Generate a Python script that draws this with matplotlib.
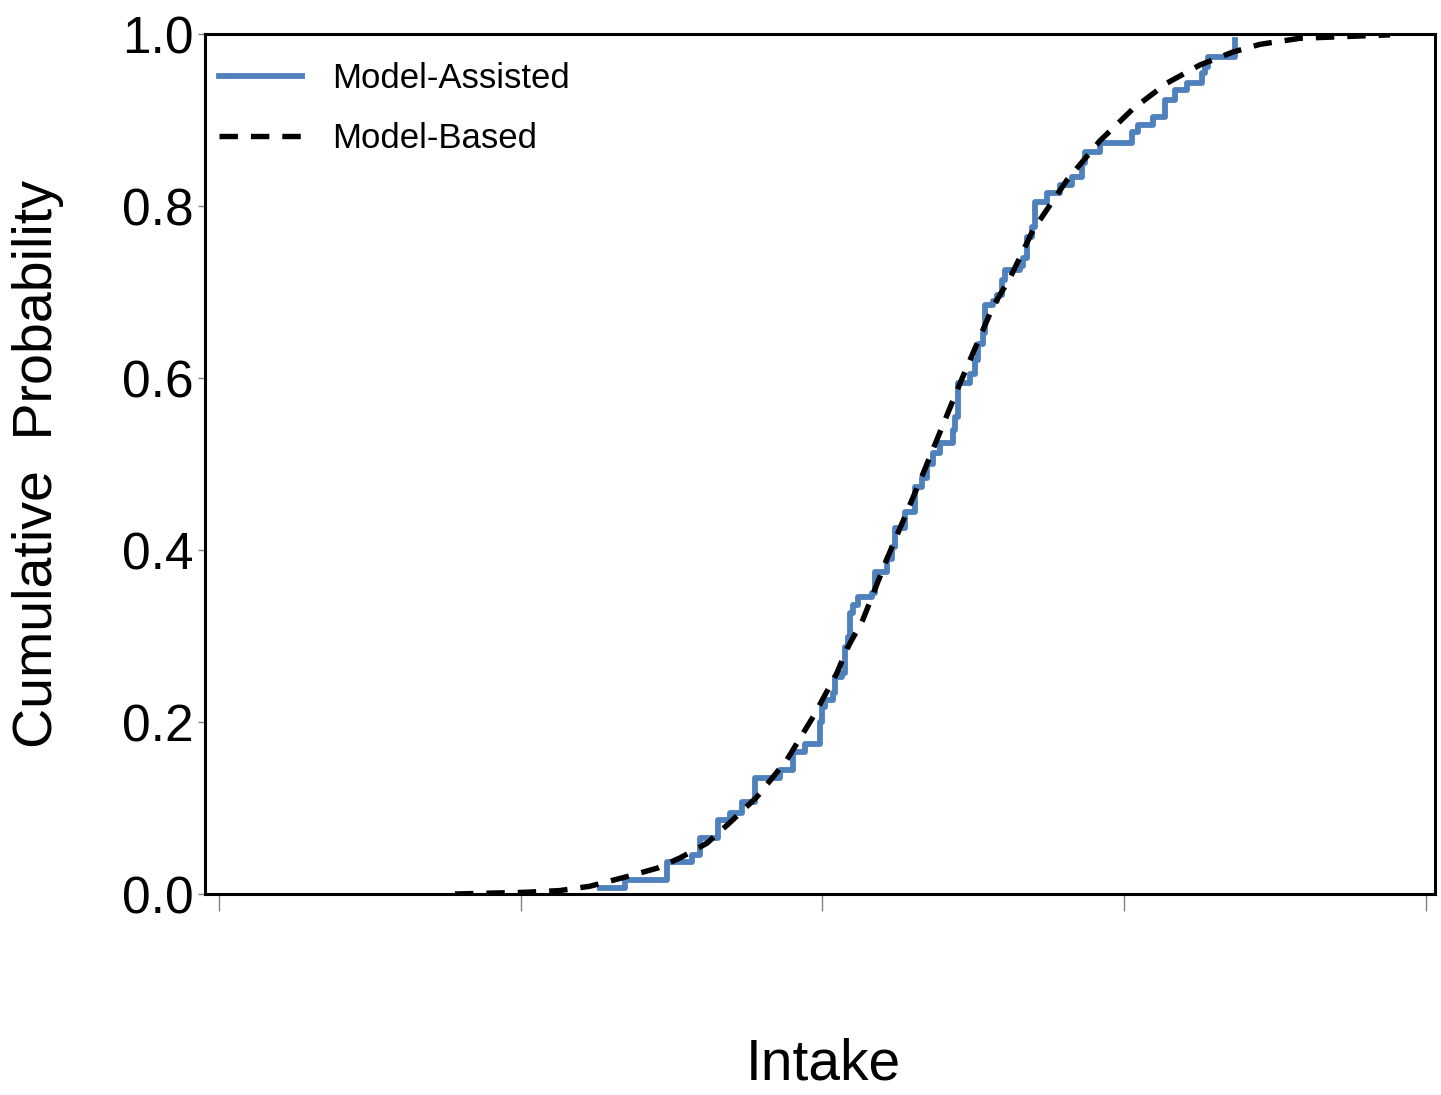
import matplotlib
matplotlib.use("Agg")
import matplotlib.pyplot as plt

plt.rcParams['font.family'] = ['Liberation Sans', 'DejaVu Sans']

# Model-Assisted empirical CDF (step positions and cumulative values)
assisted_x = [126.3, 134.5, 148.5, 156.8, 159.4, 165.4, 169.3, 173.3, 177.6, 185.9,
              190.2, 194.2, 199.2, 199.8, 200.8, 203.5, 204.1, 206.5, 207.5, 208.4,
              209.1, 210.1, 211.8, 216.4, 217.4, 221.4, 223.0, 224.0, 227.3, 230.7,
              233.0, 234.6, 236.6, 238.9, 243.2, 243.9, 244.9, 248.9, 250.5, 251.5,
              253.2, 253.9, 256.5, 257.8, 259.5, 260.5, 265.5, 266.4, 267.8, 269.4,
              270.4, 274.4, 278.7, 282.7, 286.0, 287.0, 292.0, 302.6, 304.6, 309.5,
              313.5, 316.8, 320.8, 325.8, 326.8, 327.8, 336.7]
assisted_y = [0.007, 0.016, 0.037, 0.045, 0.065, 0.086, 0.094, 0.107, 0.135, 0.144,
              0.165, 0.175, 0.200, 0.218, 0.226, 0.234, 0.252, 0.257, 0.287, 0.299,
              0.327, 0.336, 0.345, 0.350, 0.374, 0.390, 0.403, 0.426, 0.444, 0.473,
              0.484, 0.500, 0.513, 0.524, 0.540, 0.555, 0.594, 0.605, 0.621, 0.640,
              0.652, 0.685, 0.690, 0.697, 0.714, 0.726, 0.730, 0.740, 0.764, 0.776,
              0.805, 0.815, 0.824, 0.834, 0.850, 0.863, 0.873, 0.886, 0.894, 0.904,
              0.923, 0.935, 0.943, 0.955, 0.962, 0.973, 0.993]

# Model-Based smooth CDF
based_x = [78.2, 101.4, 113.0, 122.9, 133.9, 145.2, 152.8, 161.7, 169.3, 178.3,
           188.2, 196.9, 204.8, 208.1, 213.4, 221.4, 232.3, 245.6, 256.5, 262.1,
           269.8, 281.0, 292.0, 302.9, 314.2, 325.1, 336.0, 345.0, 358.2, 388.1]
based_y = [0.000, 0.002, 0.004, 0.009, 0.019, 0.030, 0.042, 0.059, 0.083, 0.113,
           0.156, 0.206, 0.257, 0.285, 0.319, 0.390, 0.480, 0.594, 0.683, 0.716,
           0.772, 0.830, 0.876, 0.913, 0.943, 0.964, 0.979, 0.988, 0.995, 0.999]

x_ticks = [0, 100, 200, 300, 400]
y_ticks = [0.0, 0.2, 0.4, 0.6, 0.8, 1.0]

fig = plt.figure(figsize=(14.41, 10.95), dpi=100)
ax = fig.add_axes([205/1441, 1-894/1095, (1435-205)/1441, (894-34)/1095])

ax.plot(assisted_x, assisted_y, drawstyle='steps-post', color='#4F81BD', lw=4.2,
        label='Model-Assisted', zorder=2)
ax.plot(based_x, based_y, color='black', lw=3.9, linestyle=(0, (3.4, 2.4)),
        label='Model-Based', zorder=3)

ax.set_xlim(-4.64, 403.0)
ax.set_ylim(0, 1.0)
ax.set_xticks(x_ticks)
ax.set_xticklabels([])
ax.set_yticks(y_ticks)
ax.set_yticklabels([f"{v:.1f}" for v in y_ticks])

for s in ax.spines.values():
    s.set_linewidth(2.2)
    s.set_color('black')

ax.tick_params(axis='y', direction='out', length=5, width=1, color='#808080',
               labelsize=37, pad=3, labelcolor='black')
ax.tick_params(axis='x', direction='out', length=12, width=1, color='#808080')

ax.set_ylabel('Cumulative  Probability', fontsize=40, labelpad=42)
fig.text(823/1441, 1-1065/1095, 'Intake', fontsize=41, ha='center', va='center')

leg = ax.legend(loc='upper left', bbox_to_anchor=(14/1230, 1-28/860), frameon=False,
                fontsize=25, handlelength=2.4, handletextpad=0.85,
                labelspacing=0.78, borderaxespad=0, borderpad=0)

fig.savefig('out.png', dpi=100)
